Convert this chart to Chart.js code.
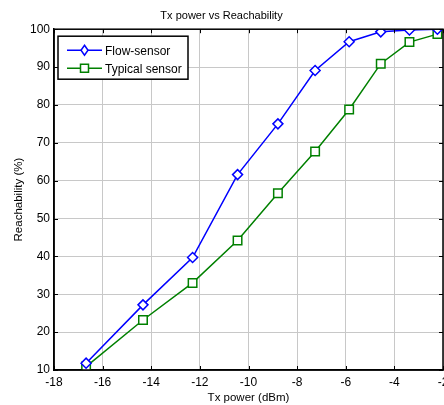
<!DOCTYPE html>
<html>
<head>
<meta charset="utf-8">
<script src="https://cdn.jsdelivr.net/npm/chart.js@4"></script>
<style>
  html, body { margin: 0; padding: 0; background: #fff; overflow: hidden; }
  #wrap { width: 470px; height: 405px; }
</style>
</head>
<body>
<div id="wrap"><canvas id="chart" width="470" height="405"></canvas></div>
<script>
// valores
const txPower = [-16.68, -14.34, -12.3, -10.45, -8.79, -7.26, -5.86, -4.56, -3.38, -2.23];
const flowSensor = [11.8, 27.2, 39.7, 61.6, 75.0, 89.1, 96.7, 99.3, 99.8, 100];
const typicalSensor = [10.9, 23.2, 33.0, 44.2, 56.7, 67.7, 78.8, 90.9, 96.6, 98.7];
const yTicks = [10, 20, 30, 40, 50, 60, 70, 80, 90, 100];
const xTicks = [-18, -16, -14, -12, -10, -8, -6, -4, -2];

const FONT = 'Liberation Sans, Arial, sans-serif';

// moldura, ticks internos e legenda dentro da área do gráfico (estilo MATLAB)
const matlabFrame = {
    id: 'matlabFrame',
    afterDatasetsDraw(chart) {
        const { ctx, chartArea: a, scales } = chart;
        ctx.save();
        ctx.strokeStyle = '#000';
        ctx.lineWidth = 1;
        ctx.beginPath();
        xTicks.forEach(v => {
            const px = Math.round(scales.x.getPixelForValue(v)) + 0.5;
            ctx.moveTo(px, a.top); ctx.lineTo(px, a.top + 4);
            ctx.moveTo(px, a.bottom); ctx.lineTo(px, a.bottom - 4);
        });
        yTicks.forEach(v => {
            const py = Math.round(scales.y.getPixelForValue(v)) + 0.5;
            ctx.moveTo(a.left, py); ctx.lineTo(a.left + 4, py);
            ctx.moveTo(a.right, py); ctx.lineTo(a.right - 4, py);
        });
        ctx.stroke();
        ctx.lineWidth = 1.5;
        ctx.strokeRect(a.left, a.top, a.right - a.left, a.bottom - a.top);

        // legenda
        const lx = a.left + 4, ly = a.top + 7, lw = 130, lh = 43;
        ctx.fillStyle = '#fff';
        ctx.fillRect(lx, ly, lw, lh);
        ctx.lineWidth = 1.5;
        ctx.strokeRect(lx, ly, lw, lh);
        ctx.font = '12px ' + FONT;
        ctx.textBaseline = 'middle';
        chart.data.datasets.forEach((ds, i) => {
            const ry = ly + 14 + i * 18;
            ctx.strokeStyle = ds.borderColor;
            ctx.lineWidth = 1.5;
            ctx.beginPath();
            ctx.moveTo(lx + 9, ry); ctx.lineTo(lx + 44, ry);
            ctx.stroke();
            ctx.beginPath();
            if (ds.pointStyle === 'rectRot') {
                ctx.moveTo(lx + 26.5, ry - 5); ctx.lineTo(lx + 30, ry);
                ctx.lineTo(lx + 26.5, ry + 5); ctx.lineTo(lx + 23, ry); ctx.closePath();
            } else {
                ctx.rect(lx + 22.5, ry - 4, 8, 8);
            }
            ctx.fillStyle = '#fff';
            ctx.fill();
            ctx.stroke();
            ctx.fillStyle = '#000';
            ctx.fillText(ds.label, lx + 47, ry + 1);
        });
        ctx.restore();
    }
};

new Chart(document.getElementById('chart'), {
    type: 'line',
    data: {
        datasets: [{
            label: 'Flow-sensor',
            data: txPower.map((x, i) => ({ x, y: flowSensor[i] })),
            borderColor: '#0000ff',
            backgroundColor: '#ffffff',
            borderWidth: 1.5,
            pointStyle: 'rectRot',
            pointRadius: 5,
            pointBorderWidth: 1.5,
            tension: 0
        }, {
            label: 'Typical sensor',
            data: txPower.map((x, i) => ({ x, y: typicalSensor[i] })),
            borderColor: '#008000',
            backgroundColor: '#ffffff',
            borderWidth: 1.5,
            pointStyle: 'rect',
            pointRadius: 6,
            pointBorderWidth: 1.5,
            tension: 0
        }]
    },
    options: {
        responsive: false,
        animation: false,
        layout: { padding: { left: 0, right: 27, top: 0, bottom: 0 } },
        plugins: {
            legend: { display: false },
            tooltip: { enabled: false },
            title: {
                display: true,
                text: 'Tx power vs Reachability',
                color: '#000',
                font: { family: FONT, size: 11, weight: 'normal' },
                padding: { top: 9, bottom: 7 }
            }
        },
        scales: {
            x: {
                type: 'linear',
                min: -18, max: -2,
                afterBuildTicks: s => { s.ticks = xTicks.map(v => ({ value: v })); },
                afterFit: s => { s.height = 35; s.paddingLeft = 0; s.paddingRight = 0; },
                grid: { color: '#c8c8c8', drawTicks: false },
                border: { color: '#000', width: 1.5 },
                ticks: { color: '#000', padding: 5, maxRotation: 0, font: { family: FONT, size: 12 } },
                title: { display: true, text: 'Tx power (dBm)', color: '#000', padding: { top: 0, bottom: 0 }, font: { family: FONT, size: 11.5 } }
            },
            y: {
                min: 10, max: 100,
                afterBuildTicks: s => { s.ticks = yTicks.map(v => ({ value: v })); },
                afterFit: s => { s.width = 54; },
                grid: { color: '#c8c8c8', drawTicks: false },
                border: { color: '#000', width: 1.5 },
                ticks: { color: '#000', padding: 4, font: { family: FONT, size: 12 } },
                title: { display: true, text: 'Reachability (%)', color: '#000', padding: { top: 12, bottom: 0 }, font: { family: FONT, size: 11.5 } }
            }
        }
    },
    plugins: [matlabFrame]
});
</script>
</body>
</html>
